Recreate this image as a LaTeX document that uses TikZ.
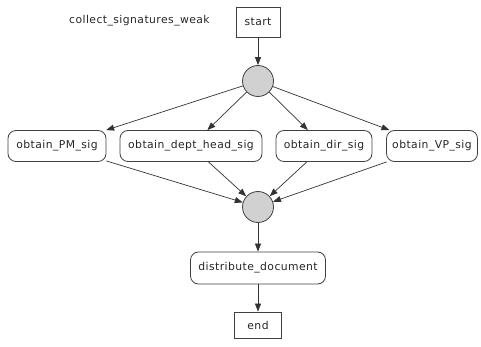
\documentclass[tikz,border=0pt]{standalone}
\usepackage{fontspec}
\setmainfont[LetterSpace=4]{DejaVu Sans}
\usetikzlibrary{arrows.meta}
\begin{document}
\begin{tikzpicture}[x=1pt,y=-1pt,
  every node/.style={font=\fontsize{10.8}{12}\selectfont, inner sep=0pt, text=black!85},
  sq/.style={draw=black!75, line width=0.8pt, minimum height=30pt},
  act/.style={draw=black!75, line width=0.8pt, rounded corners=8pt, minimum height=31pt},
  junc/.style={circle, draw=black!75, line width=0.8pt, fill=black!18, minimum size=31pt},
  flow/.style={draw=black!80, line width=0.7pt, -{Triangle[length=8pt,width=6pt]}}]
\useasboundingbox (0,0) rectangle (481,347);
\node[anchor=west] (title) at (69,21) {collect\_signatures\_weak};
\node[sq, minimum width=44pt] (start) at (258,22) {start};
\node[junc] (fork) at (258,81) {};
\node[act, minimum width=98pt] (pm) at (57,146) {obtain\_PM\_sig};
\node[act, minimum width=142pt] (dept) at (191,146) {obtain\_dept\_head\_sig};
\node[act, minimum width=96pt] (dir) at (324,146) {obtain\_dir\_sig};
\node[act, minimum width=91pt] (vp) at (432,146) {obtain\_VP\_sig};
\node[junc] (join) at (258,207) {};
\node[act, minimum width=135pt, minimum height=32pt] (dist) at (258,268) {distribute\_document};
\node[sq, minimum width=47pt, minimum height=26pt] (end) at (258,325) {end};
\draw[flow] (start) -- (fork);
\draw[flow] (fork) -- (pm);
\draw[flow] (fork) -- (dept);
\draw[flow] (fork) -- (dir);
\draw[flow] (fork) -- (vp);
\draw[flow] (pm) -- (join);
\draw[flow] (dept) -- (join);
\draw[flow] (dir) -- (join);
\draw[flow] (vp) -- (join);
\draw[flow] (join) -- (dist);
\draw[flow] (dist) -- (end);
\end{tikzpicture}
\end{document}
